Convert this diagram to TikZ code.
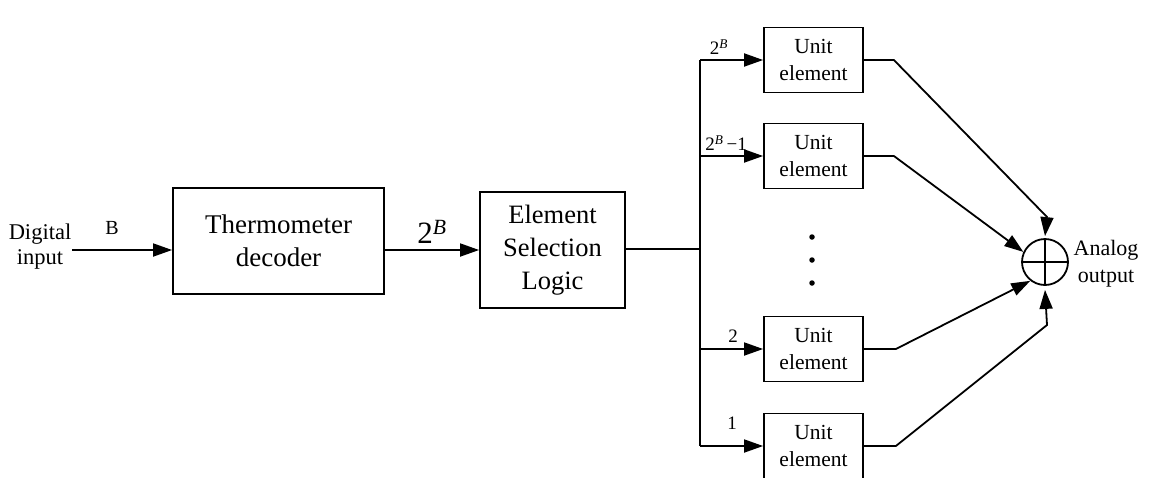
\documentclass[tikz,border=0pt]{standalone}
\usepackage{fontspec}
\setmainfont{Liberation Serif}
\usetikzlibrary{arrows.meta}
\begin{document}
\begin{tikzpicture}[x=1pt,y=-1pt,
  line width=1.8pt,
  box/.style={draw, line width=1.8pt, align=center, inner sep=0pt},
  arr/.style={-{Triangle[length=19pt,width=13pt]}},
  lbl/.style={inner sep=0pt, align=center},
  unitbox/.style={box, minimum width=99pt, minimum height=65pt, font=\fontsize{21.5}{27}\selectfont},
  dotc/.style={fill, circle, inner sep=0pt, minimum size=5.5pt}]
\useasboundingbox (0,0) rectangle (1149,477);

% texts
\node[lbl, font=\fontsize{22.5}{25}\selectfont] (din) at (40,247) {Digital\\input};
\coordinate (dinr) at (72,250);
\node[lbl, font=\fontsize{20}{24}\selectfont] (lB) at (112,228) {B};

% main boxes
\node[box, minimum width=211pt, minimum height=106pt, font=\fontsize{27}{33}\selectfont] (td) at (278.5,241) {Thermometer\\decoder};
\node[lbl, font=\fontsize{31}{34}\selectfont] (l2B) at (432,232) {2\textsuperscript{\textit{B}}};
\node[box, minimum width=145pt, minimum height=116pt, font=\fontsize{26.5}{33}\selectfont] (esl) at (552.5,250) {Element\\Selection\\Logic};

\draw[arr] (dinr) -- (td.west |- dinr);
\draw[arr] (td.east |- esl.west) -- (esl.west);

% bus
\coordinate (bus) at (700,249);
\coordinate (bustop) at (700,60);
\coordinate (busbot) at (700,446);
\draw (esl.east |- bus) -- (bus);
\draw (bustop) -- (busbot);

% unit elements
\node[unitbox] (u1) at (813.5,60) {Unit\\element};
\node[unitbox] (u2) at (813.5,156) {Unit\\element};
\node[unitbox] (u3) at (813.5,349) {Unit\\element};
\node[unitbox] (u4) at (813.5,446) {Unit\\element};

\draw[arr] (bustop) -- (u1.west);
\draw[arr] (bustop |- u2.west) -- (u2.west);
\draw[arr] (bustop |- u3.west) -- (u3.west);
\draw[arr] (busbot) -- (u4.west);

\node[lbl, font=\fontsize{19}{20}\selectfont] (l1) at (719,47) {2\textsuperscript{\textit{B}}};
\node[lbl, font=\fontsize{19}{20}\selectfont] (l2) at (726,143) {2\textsuperscript{\textit{B}}\,−1};
\node[lbl, font=\fontsize{19}{20}\selectfont] (l3) at (733,336) {2};
\node[lbl, font=\fontsize{19}{20}\selectfont] (l4) at (732,423) {1};

% dots
\node[dotc] (d1) at (812,237) {};
\node[dotc] (d2) at (812,260) {};
\node[dotc] (d3) at (812,283) {};

% summer
\node[draw, circle, line width=1.8pt, minimum size=46pt, inner sep=0pt] (sum) at (1045,262) {};
\draw (sum.north) -- (sum.south) (sum.west) -- (sum.east);
\node[lbl, font=\fontsize{22}{27}\selectfont] (aout) at (1106,264) {Analog\\output};

\draw[arr] (u1.east) -- ++(30,0) -- (1047,217) -- ([yshift=2pt]sum.north);
\draw[arr] (u2.east) -- ++(30,0) -- (sum.155);
\draw[arr] (u3.east) -- ++(32,0) -- (sum.232);
\draw[arr] (u4.east) -- ++(32,0) -- (1047,325) -- ([yshift=-4pt]sum.south);
\end{tikzpicture}
\end{document}
